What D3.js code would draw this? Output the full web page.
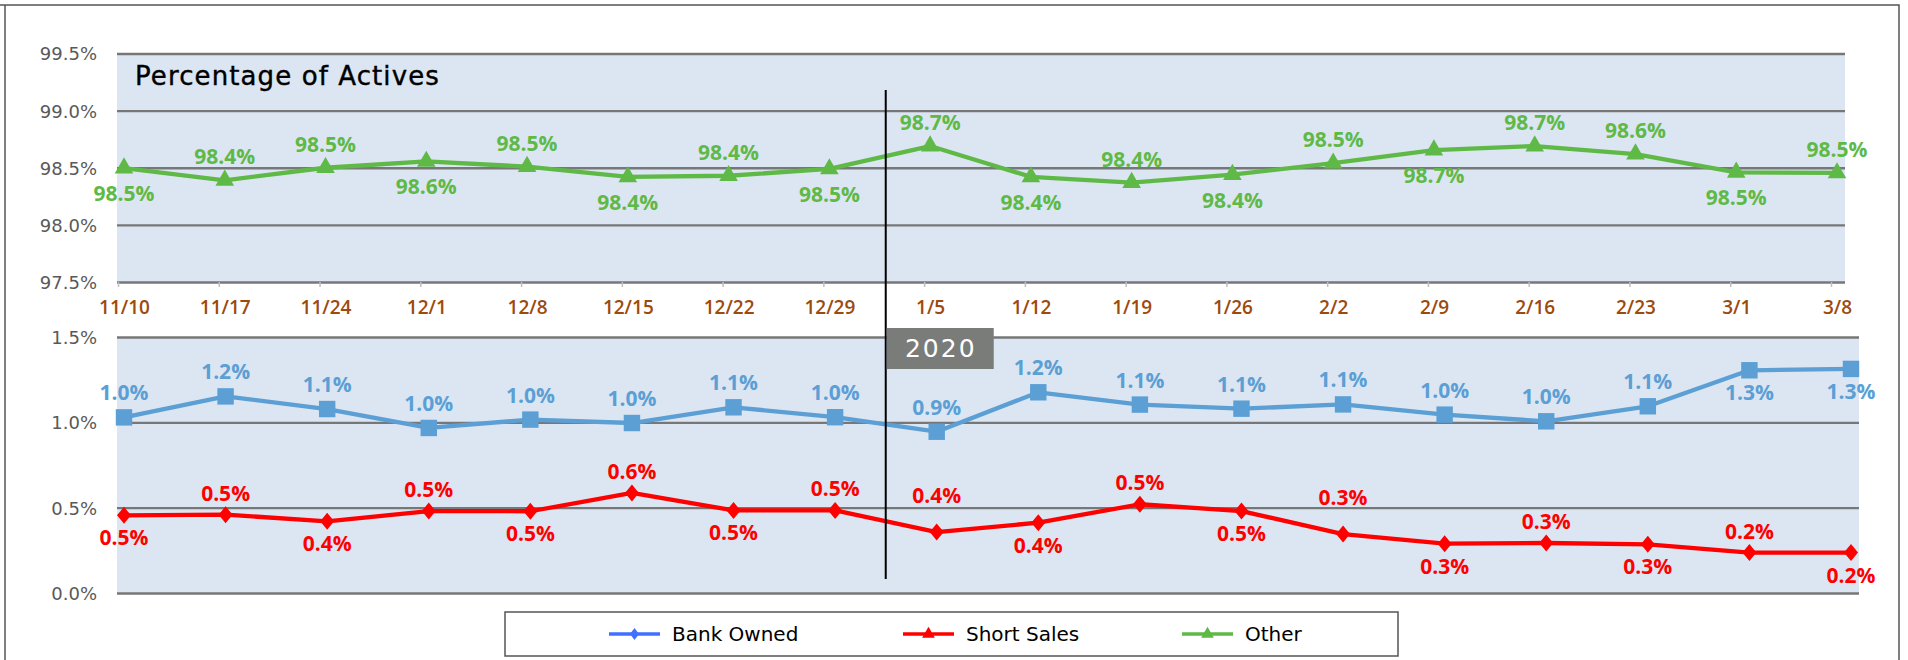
<!DOCTYPE html>
<html>
<head>
<meta charset="utf-8">
<script src="https://cdn.jsdelivr.net/npm/d3@7"></script>
<style>
  body { margin: 0; background: #ffffff; }
</style>
</head>
<body>
<div id="mainViewDiv"></div>
<script>

// week labels along the shared x axis
const weeks = ["11/10", "11/17", "11/24", "12/1", "12/8", "12/15", "12/22", "12/29",
               "1/5", "1/12", "1/19", "1/26", "2/2", "2/9", "2/16", "2/23", "3/1", "3/8"];

// percentage of actives
const otherPct      = [98.497, 98.39, 98.50, 98.555, 98.51, 98.42, 98.43, 98.49, 98.69,
                       98.42, 98.37, 98.44, 98.54, 98.655, 98.69, 98.62, 98.46, 98.455];
const bankOwnedPct  = [1.029, 1.152, 1.078, 0.967, 1.016, 0.996, 1.088, 1.03, 0.945,
                       1.176, 1.104, 1.08, 1.105, 1.045, 1.006, 1.094, 1.305, 1.313];
const shortSalesPct = [0.455, 0.459, 0.42, 0.48, 0.479, 0.586, 0.484, 0.484, 0.357,
                       0.412, 0.52, 0.48, 0.345, 0.289, 0.293, 0.285, 0.237, 0.237];

// which side of the point each data label sits on (a = above, A = above, raised, b = below)
const otherSide      = ["b","a","a","b","a","b","a","b","a","b","a","b","a","b","a","a","b","a"];
const bankOwnedSide  = ["a","a","a","a","a","a","a","a","a","a","a","a","a","a","a","a","b","b"];
const shortSalesSide = ["b","a","b","a","b","a","b","a","A","b","a","b","A","b","a","b","a","b"];

const topTicks = [97.5, 98.0, 98.5, 99.0, 99.5];
const bottomTicks = [0, 0.5, 1.0, 1.5];

const panelTitle = "Percentage of Actives";
const yearLabel = "2020";
const yearStart = "1/5";
const legendNames = ["Bank Owned", "Short Sales", "Other"];

const green = "#5fb946";
const blue = "#5b9fd5";
const red = "#ff0000";
const gridColor = "#777777";
const panelFill = "#dce6f2";
const axisFont = "DejaVu Sans, sans-serif";
const labelFont = "Open Sans, sans-serif";

let svg = d3.select("#mainViewDiv").append("svg")
            .attr("width", 1908)
            .attr("height", 660)
            .style("display", "block");

let xTop = d3.scalePoint().domain(weeks).range([124, 1837]);
let xBottom = d3.scalePoint().domain(weeks).range([124, 1851]);
let yTop = d3.scaleLinear().domain([97.5, 99.5]).range([282, 53.5]);
let yBottom = d3.scaleLinear().domain([0, 1.5]).range([593, 337]);

const plotLeft = 117;

// outer frame
svg.append("path")
   .attr("d", "M0,5H1899V660M5,5V660")
   .attr("fill", "none")
   .attr("stroke", "#555")
   .attr("stroke-width", 1.5);

function drawPanel(y, ticks, right) {
    svg.append("rect")
       .attr("x", plotLeft)
       .attr("y", y(ticks[ticks.length - 1]))
       .attr("width", right - plotLeft)
       .attr("height", y(ticks[0]) - y(ticks[ticks.length - 1]))
       .attr("fill", panelFill);

    let grid = svg.append("g")
                  .attr("transform", "translate(" + plotLeft + ",0)")
                  .call(d3.axisLeft(y)
                          .tickValues(ticks)
                          .tickSize(-(right - plotLeft))
                          .tickPadding(20)
                          .tickFormat(d => d.toFixed(1) + "%"));
    grid.select(".domain").remove();
    grid.selectAll(".tick line")
        .attr("stroke", gridColor)
        .attr("stroke-width", 2.4);
    grid.selectAll(".tick text")
        .attr("dy", "0.36em")
        .style("font", "18px " + axisFont)
        .style("fill", "#595959");
}

drawPanel(yTop, topTicks, 1845);
drawPanel(yBottom, bottomTicks, 1859);

// category axis under the top panel
let xAxis = svg.append("g")
               .attr("transform", "translate(0," + yTop(97.5) + ")")
               .call(d3.axisBottom(xTop).tickSize(5).tickPadding(0));
xAxis.select(".domain").remove();
xAxis.selectAll(".tick line")
     .attr("x1", -6).attr("x2", -6)
     .attr("stroke", "#bfbfbf")
     .attr("stroke-width", 1.5);
xAxis.selectAll(".tick text")
     .attr("y", 32).attr("dy", 0)
     .style("font", "600 19px " + labelFont)
     .style("fill", "#9c4a0d");

svg.append("text")
   .attr("x", 135)
   .attr("y", 85)
   .text(panelTitle)
   .style("font", "26px " + axisFont)
   .style("letter-spacing", "1.1px")
   .style("stroke", "#000")
   .style("stroke-width", 0.4)
   .style("fill", "#000");

function drawSeries(values, sides, x, y, color, marker, upGap, downGap) {
    let line = d3.line()
                 .x((d, i) => x(weeks[i]))
                 .y(d => y(d));

    svg.append("path")
       .datum(values)
       .attr("d", line)
       .attr("fill", "none")
       .attr("stroke", color)
       .attr("stroke-width", 4.3)
       .attr("stroke-linejoin", "round");

    svg.append("g").selectAll("path")
       .data(values)
       .join("path")
       .attr("d", marker)
       .attr("transform", (d, i) => "translate(" + x(weeks[i]) + "," + y(d) + ")")
       .attr("fill", color);

    svg.append("g").selectAll("text")
       .data(values)
       .join("text")
       .attr("x", (d, i) => x(weeks[i]))
       .attr("y", (d, i) => {
           if (sides[i] == "a") return y(d) - upGap;
           if (sides[i] == "A") return y(d) - upGap - 15;
           return y(d) + downGap;
       })
       .attr("text-anchor", "middle")
       .text(d => d.toFixed(1) + "%")
       .style("font", "bold 21px " + labelFont)
       .style("fill", color);
}

let triangle = d3.symbol(d3.symbolTriangle).size(150)();
let square = d3.symbol(d3.symbolSquare).size(270)();
let diamond = "M0,-8.5L7,0L0,8.5L-7,0Z";

drawSeries(otherPct, otherSide, xTop, yTop, green, triangle, 16, 33);
drawSeries(bankOwnedPct, bankOwnedSide, xBottom, yBottom, blue, square, 17, 30);
drawSeries(shortSalesPct, shortSalesSide, xBottom, yBottom, red, diamond, 14, 30);

// year divider
let yearX = (xTop(yearStart) + xTop(weeks[weeks.indexOf(yearStart) - 1])) / 2 + 6;
svg.append("line")
   .attr("x1", yearX).attr("x2", yearX)
   .attr("y1", 90).attr("y2", 579)
   .attr("stroke", "#000")
   .attr("stroke-width", 2);

svg.append("rect")
   .attr("x", yearX + 1)
   .attr("y", 328)
   .attr("width", 107)
   .attr("height", 41)
   .attr("fill", "#7a7c7a");

svg.append("text")
   .attr("x", yearX + 55)
   .attr("y", 357)
   .attr("text-anchor", "middle")
   .text(yearLabel)
   .style("font", "25px " + axisFont)
   .style("letter-spacing", "2px")
   .style("fill", "#ffffff");

// legend
let legend = svg.append("g");
legend.append("rect")
      .attr("x", 505).attr("y", 612)
      .attr("width", 893).attr("height", 44)
      .attr("fill", "#fff")
      .attr("stroke", "#555")
      .attr("stroke-width", 1.5);

const legendColors = ["#4070ff", red, green];
const legendMarkers = ["M0,-6L4.5,0L0,6L-4.5,0Z",
                       d3.symbol(d3.symbolTriangle).size(70)(),
                       d3.symbol(d3.symbolTriangle).size(70)()];
const legendStarts = [609, 903, 1182];

legendNames.forEach((name, i) => {
    let item = legend.append("g")
                     .attr("transform", "translate(" + legendStarts[i] + ",634)");
    item.append("line")
        .attr("x1", 0).attr("x2", 51)
        .attr("stroke", legendColors[i])
        .attr("stroke-width", 3.5);
    item.append("path")
        .attr("d", legendMarkers[i])
        .attr("transform", "translate(25.5,0)")
        .attr("fill", legendColors[i]);
    item.append("text")
        .attr("x", 63)
        .attr("y", 7)
        .text(name)
        .style("font", "20px " + axisFont)
        .style("fill", "#000");
});

</script>
</body>
</html>
